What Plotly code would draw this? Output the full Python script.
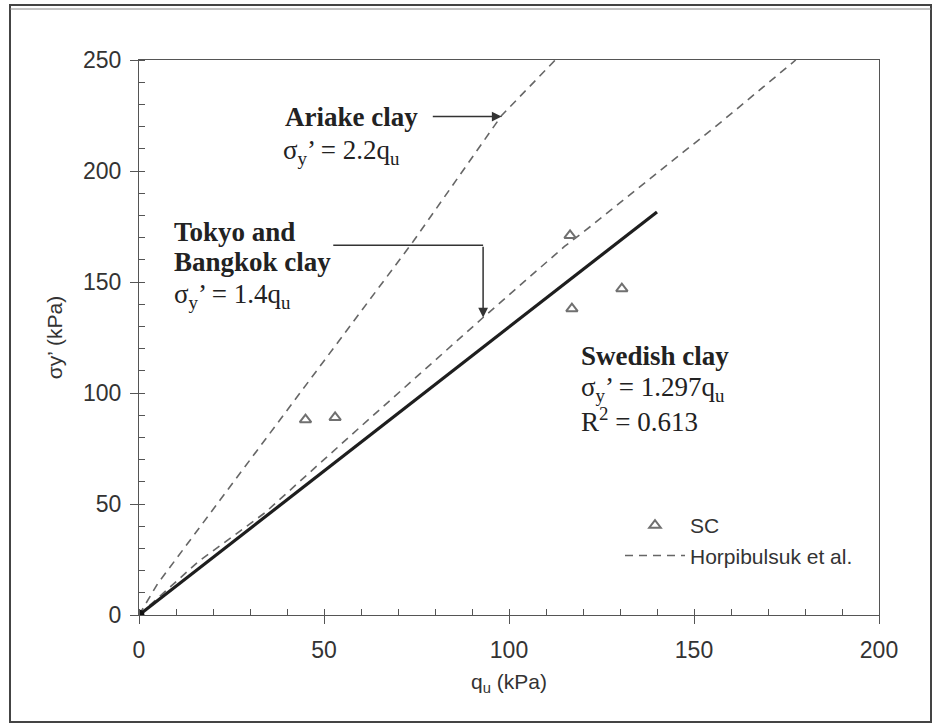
import plotly.graph_objects as go

# Measured samples (SC): unconfined strength q_u and yield stress sigma_y'
SC_QU = [45, 53, 116.5, 117, 130.5]
SC_SIGMA = [88, 89, 171, 138, 147]

# Swedish clay regression: sigma_y' = 1.297 q_u
SWEDISH_SLOPE = 1.297
SWEDISH_QU = [0, 140]

ARIAKE_QU = [0, 5, 22, 74, 98, 112.5]
ARIAKE_SIGMA = [0, 14, 52, 168, 225, 250]
TOKYO_QU = [0, 16, 34, 60, 93, 115, 122, 158, 177.5]
TOKYO_SIGMA = [0, 24, 46, 85, 134, 166, 175, 223, 250]

X_TICKS = [0, 50, 100, 150, 200]
Y_TICKS = [0, 50, 100, 150, 200, 250]

swedish_sigma = [SWEDISH_SLOPE * q for q in SWEDISH_QU]

# plot-area geometry in pixels
W, H = 934, 725
L, R, T, B = 139, 55, 60, 110
PW, PH = W - L - R, H - T - B

def px(x):
    return (x - L) / PW

def py(y):
    return (H - B - y) / PH

AXIS_GRAY = "#555555"
DASH_GRAY = "#666666"
TEXT = "#222222"
SERIF = "Liberation Serif, Times New Roman, serif"
SANS = "Liberation Sans, Arial, sans-serif"

fig = go.Figure()

fig.add_trace(go.Scatter(
    x=ARIAKE_QU, y=ARIAKE_SIGMA, mode="lines",
    line=dict(color=DASH_GRAY, width=1.6, dash="8px,6px"),
    name="Horpibulsuk et al.", legendgroup="h", showlegend=False,
    hoverinfo="skip"))
fig.add_trace(go.Scatter(
    x=TOKYO_QU, y=TOKYO_SIGMA, mode="lines",
    line=dict(color=DASH_GRAY, width=1.6, dash="8px,6px"),
    name="Horpibulsuk et al.", legendgroup="h", showlegend=True,
    hoverinfo="skip"))
fig.add_trace(go.Scatter(
    x=SWEDISH_QU, y=swedish_sigma, mode="lines",
    line=dict(color="#1e1e1e", width=3.2),
    name="Swedish clay", showlegend=False))
fig.add_trace(go.Scatter(
    x=[SWEDISH_QU[0]], y=[swedish_sigma[0]], mode="markers",
    marker=dict(color="#111111", size=11),
    showlegend=False, hoverinfo="skip"))
fig.add_trace(go.Scatter(
    x=SC_QU, y=SC_SIGMA, mode="markers",
    marker=dict(symbol="triangle-up-open", size=10, color="#707070",
                line=dict(width=2, color="#707070")),
    name="SC", legendgroup="sc", showlegend=True))

axis_common = dict(
    showgrid=False, zeroline=False, showline=True, mirror=True,
    linecolor=AXIS_GRAY, linewidth=1.2,
    ticks="outside", ticklen=8, tickwidth=1.2, tickcolor=AXIS_GRAY,
    tickfont=dict(family=SANS, size=23, color="#333333"),
    minor=dict(ticks="inside", ticklen=6, dtick=10, tickwidth=1,
               tickcolor=AXIS_GRAY),
)

fig.update_layout(
    width=W, height=H,
    margin=dict(l=L, r=R, t=T, b=B),
    paper_bgcolor="white", plot_bgcolor="white",
    xaxis=dict(range=[0, 200], tickvals=X_TICKS, ticklabelstandoff=6,
               title=dict(text="q<sub>u</sub> (kPa)", standoff=12,
                          font=dict(family=SANS, size=21, color="#333333")),
               **axis_common),
    yaxis=dict(range=[0, 250], tickvals=Y_TICKS, ticklabelstandoff=4,
               title=dict(text="σy’ (kPa)", standoff=14,
                          font=dict(family=SANS, size=21, color="#333333")),
               **axis_common),
    legend=dict(x=px(620), y=py(505), xanchor="left", yanchor="top",
                bgcolor="rgba(0,0,0,0)", traceorder="reversed",
                tracegroupgap=30, itemwidth=60,
                font=dict(family=SANS, size=21, color="#333333")),
    showlegend=True,
)

def label(x, y, text, bold=False):
    fig.add_annotation(
        x=x, y=y, xref="x", yref="y", text=f"<b>{text}</b>" if bold else text,
        showarrow=False, xanchor="left", yanchor="middle",
        font=dict(family=SERIF, size=27, color=TEXT))

label(38.8, 224.5, "Ariake clay", bold=True)
label(38.3, 208.5, "σ<sub>y</sub>’ = 2.2q<sub>u</sub>")
label(9.0, 172.5, "Tokyo and", bold=True)
label(9.0, 159, "Bangkok clay", bold=True)
label(9.0, 143.5, "σ<sub>y</sub>’ = 1.4q<sub>u</sub>")
label(119.0, 116.7, "Swedish clay", bold=True)
label(119.0, 102.0, "σ<sub>y</sub>’ = 1.297q<sub>u</sub>")
label(119.0, 88.0, "R<sup>2</sup> = 0.613")

# arrow pointing at the Ariake line
fig.add_annotation(
    x=98, y=224.5, ax=79, ay=224.5, xref="x", yref="y", axref="x", ayref="y",
    text="", showarrow=True, arrowhead=2, arrowsize=1.3, arrowwidth=1.5,
    arrowcolor="#333333")
# elbow arrow pointing at the Tokyo/Bangkok line
fig.add_shape(type="line", xref="x", yref="y", x0=52.5, y0=166.5, x1=93, y1=166.5,
              line=dict(color="#333333", width=1.5))
fig.add_annotation(
    x=93, y=134, ax=93, ay=166.5, xref="x", yref="y", axref="x", ayref="y",
    text="", showarrow=True, arrowhead=2, arrowsize=1.3, arrowwidth=1.5,
    arrowcolor="#333333")

# outer frame of the figure
fig.add_shape(type="rect", xref="paper", yref="paper",
              x0=px(10), x1=px(931), y0=py(722), y1=py(5),
              line=dict(color="#444444", width=2))
fig.add_shape(type="line", xref="paper", yref="paper",
              x0=px(10), x1=px(931), y0=py(9), y1=py(9),
              line=dict(color="#888888", width=1))

fig.write_html("out.html")
